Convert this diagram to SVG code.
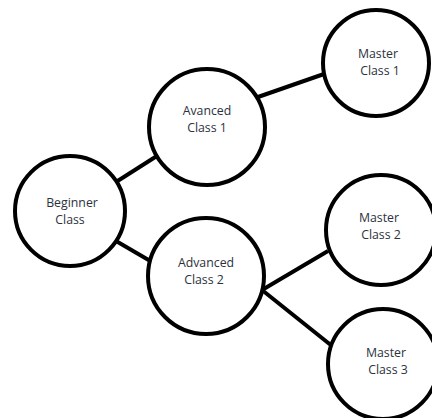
<svg xmlns="http://www.w3.org/2000/svg" width="432" height="418" viewBox="0 0 432 418">
  <style>
    .node circle { fill: #ffffff; stroke: #000000; stroke-width: 4; }
    .node text { font-family: "Open Sans", "Noto Sans", "Liberation Sans", sans-serif; font-size: 12.3px; fill: #2c323c; text-anchor: middle; }
    .links line { stroke: #000000; stroke-width: 4; }
  </style>
  <rect width="432" height="418" fill="#ffffff"/>
  <g class="links">
    <line x1="116" y1="182" x2="160" y2="154"/>
    <line x1="116" y1="241" x2="152" y2="262"/>
    <line x1="258" y1="97" x2="324" y2="74"/>
    <line x1="262" y1="290" x2="328" y2="251"/>
    <line x1="262" y1="290" x2="332" y2="346"/>
  </g>
  <g id="beginner" class="node">
    <circle cx="70" cy="211" r="55"/>
    <text x="72" y="207">Beginner</text>
    <text x="70" y="224">Class</text>
  </g>
  <g id="advanced1" class="node">
    <circle cx="207" cy="127" r="58"/>
    <text x="207" y="115">Avanced</text>
    <text x="207" y="132">Class 1</text>
  </g>
  <g id="advanced2" class="node">
    <circle cx="206" cy="276" r="58"/>
    <text x="206" y="267">Advanced</text>
    <text x="204" y="284">Class 2</text>
  </g>
  <g id="master1" class="node">
    <circle cx="376" cy="63" r="53"/>
    <text x="378" y="58">Master</text>
    <text x="380" y="75">Class 1</text>
  </g>
  <g id="master2" class="node">
    <circle cx="381" cy="230" r="55"/>
    <text x="379" y="222">Master</text>
    <text x="381" y="239">Class 2</text>
  </g>
  <g id="master3" class="node">
    <circle cx="383" cy="364" r="55"/>
    <text x="386" y="357">Master</text>
    <text x="388" y="374">Class 3</text>
  </g>
</svg>
